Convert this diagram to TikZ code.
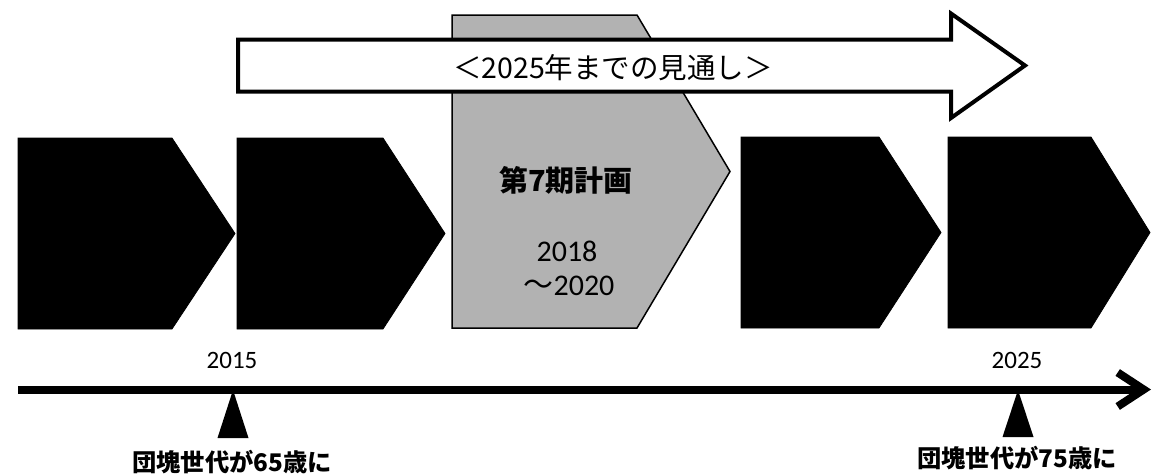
\documentclass[tikz,border=0pt]{standalone}
\usepackage{fontspec}
\usetikzlibrary{arrows.meta}
\newfontfamily\jpf{Noto Sans CJK JP}
\newfontfamily\carl{Carlito}
\tikzset{
 blackbox/.style={fill=black, draw=black, line width=0.8pt, line join=miter},
 graybox/.style={fill=black!30, draw=black, line width=1.5pt},
 bigarrow/.style={fill=white, draw=black, line width=4pt, line join=miter},
 timeline/.style={line width=8pt, -{Straight Barb[length=26pt,width=34pt]}},
 marker/.style={fill=black},
 yearlbl/.style={font=\carl\fontsize{25}{25}\selectfont, inner sep=0pt},
 evlbl/.style={font=\jpf\bfseries\fontsize{24.3}{24.3}\selectfont, inner sep=0pt},
 titlelbl/.style={font=\jpf\fontsize{28.5}{28.5}\selectfont, inner sep=0pt},
 planlbl/.style={font=\jpf\bfseries\fontsize{29}{29}\selectfont, inner sep=0pt},
 planyr/.style={font=\carl\fontsize{30}{30}\selectfont, inner sep=0pt},
}
\begin{document}
\begin{tikzpicture}[x=1pt,y=-1pt]
\fill[white] (0,0) rectangle (1152,475);
\useasboundingbox (0,0) rectangle (1152,475);
% period boxes
\path[blackbox] (18,138) -- (172,138) -- (235,233.5) -- (172,329) -- (18,329) -- cycle;
\path[blackbox] (237,138) -- (383,138) -- (445,233.5) -- (383,329) -- (237,329) -- cycle;
\path[graybox] (452,15) -- (637,15) -- (730,171.5) -- (637,328) -- (452,328) -- cycle;
\path[blackbox] (741,137) -- (879,137) -- (941,232.5) -- (879,328) -- (741,328) -- cycle;
\path[blackbox] (948,137) -- (1091,137) -- (1150,232.5) -- (1091,328) -- (948,328) -- cycle;
% big outlook arrow
\path[bigarrow] (238,39.5) -- (951,39.5) -- (951,13.5) -- (1025,65.5) -- (951,118) -- (951,91.5) -- (238,91.5) -- cycle;
\node[titlelbl] (title) at (613,68) {＜2025年までの見通し＞};
% plan labels
\node[planlbl] (plan7) at (566,180) {第7期計画};
\node[planyr] (p7a) at (567,251) {2018};
\node[planyr] (p7b) at (569,286) {{\jpf 〜}2020};
% timeline
\coordinate (t0) at (18,389.5);
\coordinate (t1) at (1151,389.5);
\draw[timeline] (t0) -- (t1);
\node[yearlbl] (y2015) at (232,360) {2015};
\node[yearlbl] (y2025) at (1017,360) {2025};
% markers
\path[marker] (233,390) -- (248.5,438) -- (217.5,438) -- cycle;
\path[marker] (1018,390) -- (1033.5,437) -- (1002.5,437) -- cycle;
\node[evlbl] (e65) at (232,462) {団塊世代が65歳に};
\node[evlbl] (e75) at (1017,458) {団塊世代が75歳に};
\end{tikzpicture}
\end{document}
